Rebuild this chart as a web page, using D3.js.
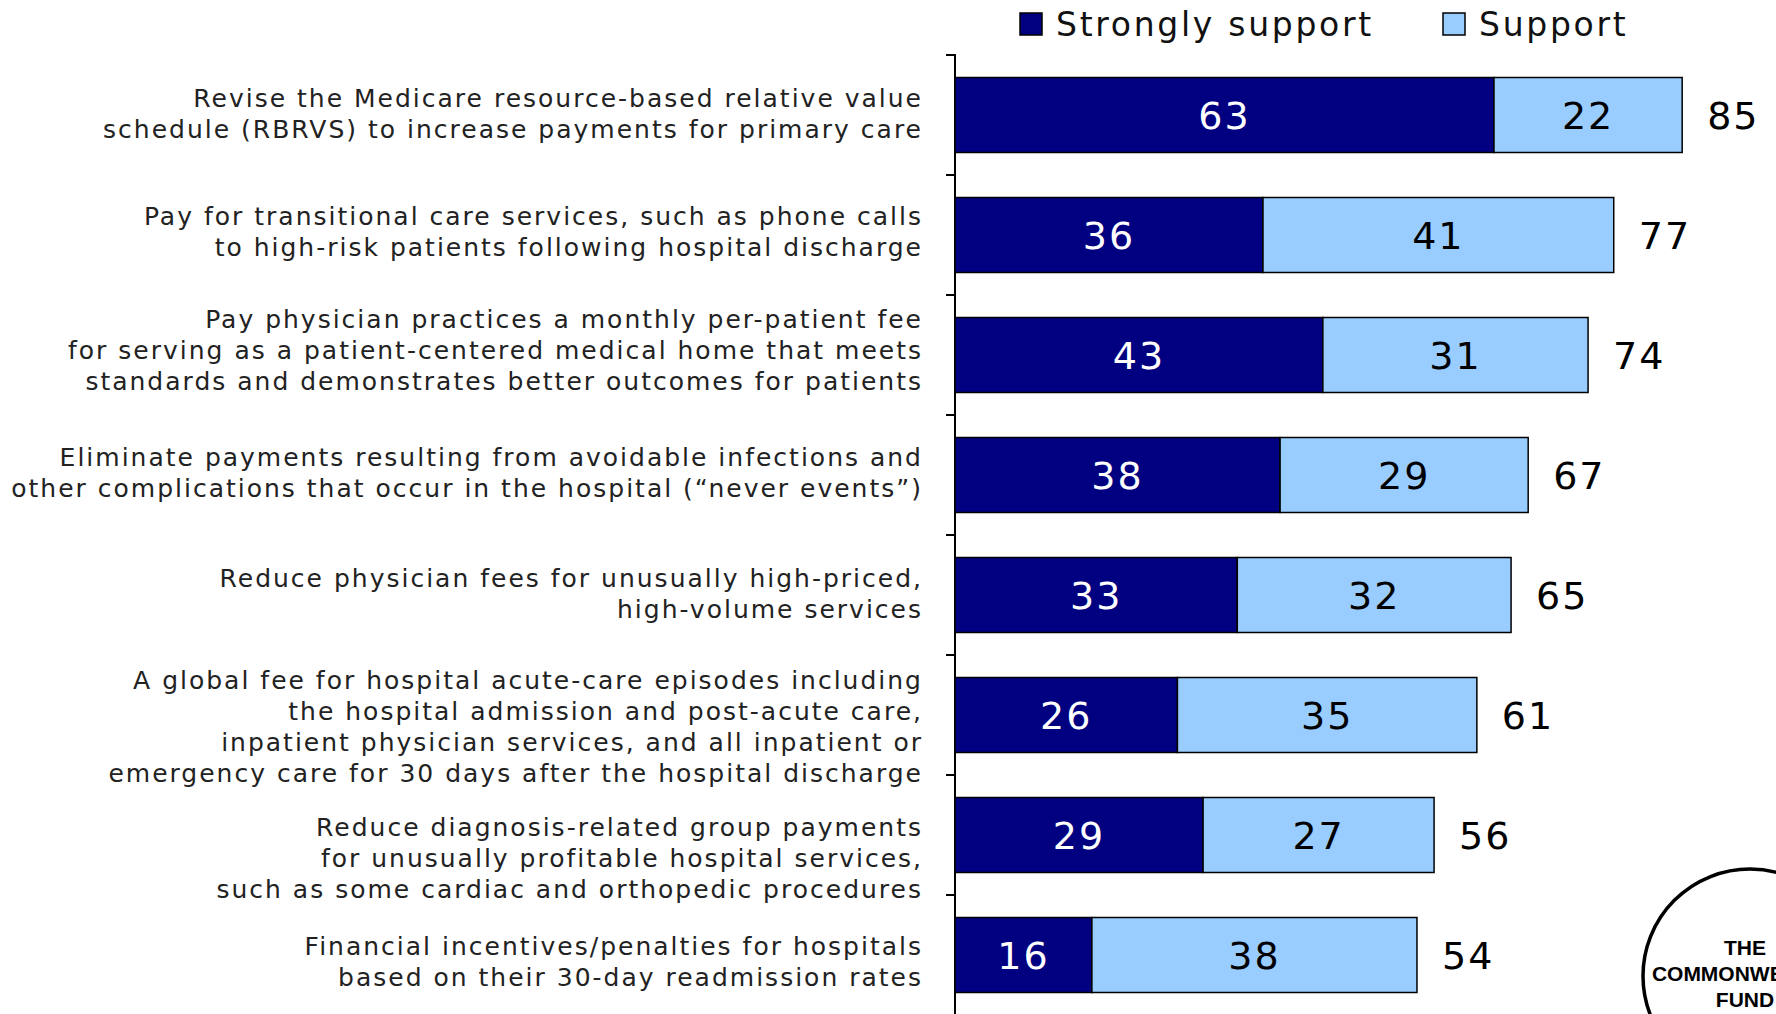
<!DOCTYPE html>
<html>
<head>
<meta charset="utf-8">
<script src="https://cdn.jsdelivr.net/npm/d3@7"></script>
<style>
  body { margin: 0; background: #fff; }
  svg { display: block; }
</style>
</head>
<body>
<script>
// chart values
var categories = [
  ["Revise the Medicare resource-based relative value", "schedule (RBRVS) to increase payments for primary care"],
  ["Pay for transitional care services, such as phone calls", "to high-risk patients following hospital discharge"],
  ["Pay physician practices a monthly per-patient fee", "for serving as a patient-centered medical home that meets", "standards and demonstrates better outcomes for patients"],
  ["Eliminate payments resulting from avoidable infections and", "other complications that occur in the hospital (\u201cnever events\u201d)"],
  ["Reduce physician fees for unusually high-priced,", "high-volume services"],
  ["A global fee for hospital acute-care episodes including", "the hospital admission and post-acute care,", "inpatient physician services, and all inpatient or", "emergency care for 30 days after the hospital discharge"],
  ["Reduce diagnosis-related group payments", "for unusually profitable hospital services,", "such as some cardiac and orthopedic procedures"],
  ["Financial incentives/penalties for hospitals", "based on their 30-day readmission rates"]
];
var stronglySupport = [63, 36, 43, 38, 33, 26, 29, 16];
var support = [22, 41, 31, 29, 32, 35, 27, 38];
var seriesNames = ["Strongly support", "Support"];
var seriesColors = ["#000080", "#99ccff"];
var logoWords = ["THE", "COMMONWEALTH", "FUND"];

// the slide's labels don't sit exactly on the band centre (px)
var labelNudge = [-1, -3.5, -4.5, -2, -1, 12, 23, 7];

var svgWidth = 1776;
var svgHeight = 1014;

var svg = d3.select("body")
  .append("svg")
  .attr("width", svgWidth)
  .attr("height", svgHeight);

var keys = categories.map((c, i) => "c" + i);

var x = d3.scaleLinear().domain([0, 100]).range([955, 1810.5]);
var y = d3.scaleBand()
  .domain(keys)
  .range([55, 1015])
  .paddingInner(0.375)
  .paddingOuter(0.1875);

var rows = keys.map((k, i) => ({ key: k, i: i, lines: categories[i], s: stronglySupport[i], p: support[i] }));

// axis line + ticks between categories
svg.append("line")
  .attr("x1", x(0)).attr("x2", x(0))
  .attr("y1", y.range()[0] - 1).attr("y2", svgHeight)
  .attr("stroke", "#000").attr("stroke-width", 2);

var tickYs = d3.range(keys.length + 1).map(i => y.range()[0] + i * y.step());
svg.selectAll(".tick")
  .data(tickYs)
  .enter().append("line")
  .attr("class", "tick")
  .attr("x1", x(0) - 9).attr("x2", x(0))
  .attr("y1", d => d).attr("y2", d => d)
  .attr("stroke", "#000").attr("stroke-width", 2);

// bars
var g = svg.selectAll(".row")
  .data(rows)
  .enter().append("g")
  .attr("class", "row");

g.append("rect")
  .attr("x", x(0))
  .attr("y", d => y(d.key))
  .attr("width", d => x(d.s) - x(0))
  .attr("height", y.bandwidth())
  .attr("fill", seriesColors[0])
  .attr("stroke", "#000").attr("stroke-width", 1.5);

g.append("rect")
  .attr("x", d => x(d.s))
  .attr("y", d => y(d.key))
  .attr("width", d => x(d.s + d.p) - x(d.s))
  .attr("height", y.bandwidth())
  .attr("fill", seriesColors[1])
  .attr("stroke", "#000").attr("stroke-width", 1.5);

var font = "'DejaVu Sans', Verdana, sans-serif";

function numLabel(sel) {
  return sel.attr("dy", "0.36em")
    .style("font-family", font).style("font-size", "38px").style("letter-spacing", "2px");
}

numLabel(g.append("text"))
  .attr("x", d => (x(0) + x(d.s)) / 2)
  .attr("y", d => y(d.key) + y.bandwidth() / 2)
  .attr("text-anchor", "middle")
  .attr("fill", "#fff")
  .text(d => d.s);

numLabel(g.append("text"))
  .attr("x", d => (x(d.s) + x(d.s + d.p)) / 2)
  .attr("y", d => y(d.key) + y.bandwidth() / 2)
  .attr("text-anchor", "middle")
  .attr("fill", "#000")
  .text(d => d.p);

numLabel(g.append("text"))
  .attr("x", d => x(d.s + d.p) + 25)
  .attr("y", d => y(d.key) + y.bandwidth() / 2)
  .attr("fill", "#000")
  .text(d => d.s + d.p);

// category labels, right aligned against the axis
var lineH = 31;
g.append("text")
  .attr("text-anchor", "end")
  .style("font-family", font).style("font-size", "25px").style("letter-spacing", "2px")
  .attr("fill", "#222")
  .each(function(d) {
    var t = d3.select(this);
    var cy = y(d.key) + y.bandwidth() / 2 + labelNudge[d.i];
    var n = d.lines.length;
    d.lines.forEach((ln, j) => {
      t.append("tspan")
        .attr("x", 923)
        .attr("y", cy + (j - (n - 1) / 2) * lineH)
        .attr("dy", "0.35em")
        .text(ln);
    });
  });

// legend
var legend = svg.append("g");
var legendX = [1020, 1443];
seriesNames.forEach((name, i) => {
  legend.append("rect")
    .attr("x", legendX[i]).attr("y", 13)
    .attr("width", 22).attr("height", 22)
    .attr("fill", seriesColors[i])
    .attr("stroke", "#000").attr("stroke-width", 1.5);
  legend.append("text")
    .attr("x", legendX[i] + 36).attr("y", 24)
    .attr("dy", "0.36em")
    .style("font-family", font).style("font-size", "33px").style("letter-spacing", "2.7px")
    .attr("fill", "#111")
    .text(name);
});

// logo, cut by the page edge as on the slide
var logo = svg.append("g");
logo.append("circle")
  .attr("cx", 1750).attr("cy", 976).attr("r", 107)
  .attr("fill", "#fff").attr("stroke", "#000").attr("stroke-width", 3.5);
logoWords.forEach((w, i) => {
  logo.append("text")
    .attr("x", 1745).attr("y", 955 + i * 26)
    .attr("text-anchor", "middle")
    .style("font-family", "'Liberation Sans', Arial, sans-serif")
    .style("font-size", "21px").style("font-weight", "bold")
    .text(w);
});
</script>
</body>
</html>
